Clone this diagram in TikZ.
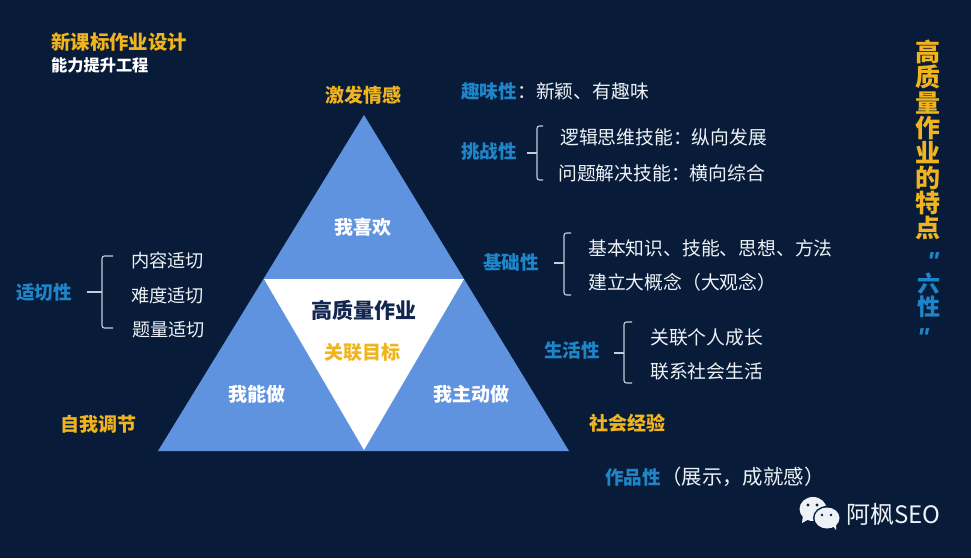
\documentclass[tikz,border=0pt]{standalone}
\usepackage{fontspec}
\setmainfont{Noto Sans CJK SC}
\newfontfamily\quotefont{Liberation Sans}
\definecolor{bgnavy}{HTML}{081C3A}
\definecolor{triblue}{HTML}{5F93E0}
\definecolor{gold}{HTML}{F0B41E}
\definecolor{skyblue}{HTML}{1E86C8}
\definecolor{bodywhite}{HTML}{EEF2F6}
\definecolor{deepnavy}{HTML}{12264F}
\definecolor{bracegray}{HTML}{C4CEDA}
\tikzset{
  x=1pt,y=-1pt,
  lbl/.style={inner sep=0pt,anchor=center},
  sz/.style={font=\fontsize{#1}{#1}\selectfont},
  szb/.style={font=\fontsize{#1}{#1}\selectfont\bfseries},
  bodyline/.style={lbl,anchor=west,sz=18.8,text=bodywhite},
  quality/.style={lbl,anchor=west,szb=18.6,text=skyblue},
  headgold/.style={lbl,szb=19,text=gold},
  inwhite/.style={lbl,szb=19,text=white},
  bracket/.style={draw=bracegray,line width=1.1pt,rounded corners=2.5pt},
  stem/.style={draw=bracegray,line width=1.1pt},
  quotemark/.style={inner sep=0pt,anchor=base,text=skyblue,font=\quotefont\fontsize{26}{26}\selectfont\bfseries\itshape},
}
\begin{document}
\begin{tikzpicture}
\fill[bgnavy] (0,0) rectangle (971,558);
\useasboundingbox (0,0) rectangle (971,558);

% triangles
\fill[triblue] (364,115) -- (569,451) -- (158,451) -- cycle;
\fill[white] (264,279) -- (464,279) -- (364,450) -- cycle;

% title
\node[lbl,anchor=west,szb=19.4,text=gold] (title) at (51,42) {新课标作业设计};
\node[lbl,anchor=west,szb=16.2,text=white] (subtitle) at (51,65) {能力提升工程};

% corners
\node[headgold] (top) at (363,95) {激发情感};
\node[headgold] (left) at (98.5,424) {自我调节};
\node[headgold] (right) at (627,423) {社会经验};

% inside
\node[inwhite] (like) at (362.5,227) {我喜欢};
\node[lbl,szb=21,text=deepnavy] (hq) at (363.5,310) {高质量作业};
\node[headgold] (goal) at (362,352) {关联目标};
\node[inwhite] (can) at (257,394) {我能做};
\node[inwhite] (active) at (471,394) {我主动做};

% left group
\node[quality,sz=18.6] (fit) at (16,292) {\bfseries 适切性};
\node[bodyline,sz=18.2] (f1) at (131,261) {内容适切};
\node[bodyline,sz=18.2] (f2) at (131,296) {难度适切};
\node[bodyline,sz=18.2] (f3) at (132,330) {题量适切};
\coordinate (fs) at (87,292);
\coordinate (fm) at (102,292);
\path[bracket] (113,256) -- (102,256) -- (102,328) -- (113,328);
\path[stem] (fs) -- (fm);

% right groups
\node[quality] (fun) at (461,91) {趣味性};
\node[bodyline] (fun2) at (517,91) {：新颖、有趣味};

\node[quality] (ch) at (461,151) {挑战性};
\node[bodyline,sz=18.8] (c1) at (560,137) {逻辑思维技能：纵向发展};
\node[bodyline,sz=18.8] (c2) at (558,173) {问题解决技能：横向综合};
\coordinate (cs) at (527,153);
\coordinate (cm) at (537,153);
\path[bracket] (543,126) -- (537,126) -- (537,180) -- (543,180);
\path[stem] (cs) -- (cm);

\node[quality] (ba) at (483,262) {基础性};
\node[bodyline] (b1) at (588,248) {基本知识、技能、思想、方法};
\node[bodyline] (b2) at (588,282) {建立大概念（大观念）};
\coordinate (bs) at (554,263);
\coordinate (bm) at (564,263);
\path[bracket] (571,233) -- (564,233) -- (564,295) -- (571,295);
\path[stem] (bs) -- (bm);

\node[quality] (li) at (544,350) {生活性};
\node[bodyline] (l1) at (650,337) {关联个人成长};
\node[bodyline] (l2) at (650,371) {联系社会生活};
\coordinate (ls) at (614,353);
\coordinate (lm) at (624,353);
\path[bracket] (632,322) -- (624,322) -- (624,383) -- (632,383);
\path[stem] (ls) -- (lm);

\node[quality] (wo) at (605,477) {作品性};
\node[bodyline,sz=20.4] (wo2) at (661,477) {（展示，成就感）};

% vertical heading
\node[lbl,text=gold,align=center,font=\fontsize{25}{25.1}\selectfont\bfseries] (vt) at (928,140) {高\\质\\量\\作\\业\\的\\特\\点};
\node[lbl,text=skyblue,align=center,font=\fontsize{23}{23}\selectfont\bfseries] (vs) at (928.5,295) {六\\性};
\node[quotemark] (q1) at (933,270) {"};
\node[quotemark] (q2) at (923,346) {"};

% watermark
\fill[bodywhite] (813,509) ellipse [x radius=13.5,y radius=12];
\fill[bodywhite] (803,515) -- (802,523) -- (811,518) -- cycle;
\fill[bgnavy] (827,518) ellipse [x radius=14,y radius=12];
\fill[bodywhite] (827,518) ellipse [x radius=12.5,y radius=10.5];
\fill[bodywhite] (832,525) -- (836,530) -- (836,522) -- cycle;
\fill[bgnavy] (808,505) circle (1.6) (817,505) circle (1.6) (822,515) circle (1.4) (831,515) circle (1.4);
\node[lbl,anchor=west,text=bodywhite,font=\fontsize{24}{24}\selectfont] (seo) at (846,514) {阿枫SEO};
\end{tikzpicture}
\end{document}
